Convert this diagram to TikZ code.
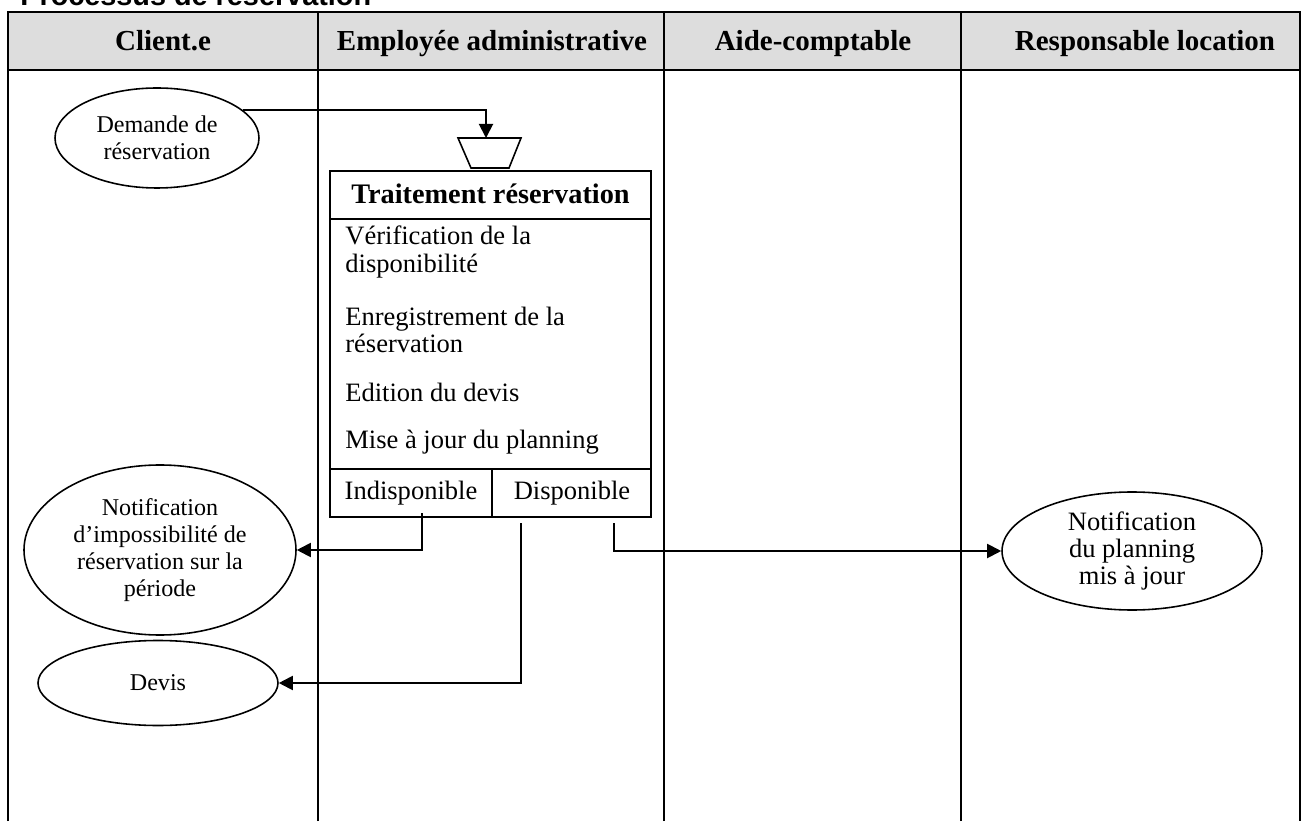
\documentclass[tikz,border=0pt]{standalone}
\usepackage{fontspec}
\setmainfont{Liberation Serif}
\newfontfamily\titlefont{Liberation Sans}
\usepackage{tikz}
\usetikzlibrary{shapes,arrows}
\usetikzlibrary{arrows.meta}
\definecolor{headgray}{RGB}{221,221,221}

\begin{document}
\begin{tikzpicture}

\tikzstyle{lane_line} = [line width=1.5pt, draw=black]
\tikzstyle{head_text} = [anchor=base, inner sep=0, font=\fontsize{16.5}{18}\selectfont\bfseries]
\tikzstyle{task_box} = [draw, line width=1.2pt, inner sep=0]
\tikzstyle{task_item} = [anchor=west, align=left, inner sep=0, font=\fontsize{15.1}{15.7}\selectfont]
\tikzstyle{flow-e} = [draw, ellipse, line width=0.9pt, inner sep=0, align=center, font=\fontsize{13.7}{15.4}\selectfont]
\tikzstyle{flow-big} = [flow-e, font=\fontsize{15.1}{15.4}\selectfont]
\tikzstyle{link} = [line width=1.1pt, -{Triangle[length=8pt,width=8pt]}]

\useasboundingbox (0,0) rectangle (26.16,16.42);

\node[anchor=base west, inner sep=0, font=\titlefont\fontsize{16.4}{18}\selectfont\bfseries] (title) at (0.40,16.30) {Processus de réservation};

\fill[headgray] (0.16,15.02) rectangle (26.00,16.18);
\draw[lane_line] (0.16,0) -- (0.16,16.18) -- (26.00,16.18) -- (26.00,0);
\draw[lane_line] (0.16,15.02) -- (26.00,15.02);
\foreach \x in {6.36,13.28,19.22}
  \draw[lane_line] (\x,0) -- (\x,16.18);

\node[head_text] (client) at (3.26,15.40) {Client.e};
\node[head_text] (employee) at (9.84,15.40) {Employée administrative};
\node[head_text] (aide) at (16.26,15.40) {Aide-comptable};
\node[head_text] (responsable) at (22.90,15.40) {Responsable location};

\node[flow-e, minimum width=4.08cm, minimum height=2.0cm] (demande) at (3.14,13.66) {Demande de\\réservation};
\node[flow-e, minimum width=5.44cm, minimum height=3.40cm] (impossible) at (3.20,5.42) {Notification\\d’impossibilité de\\réservation sur la\\période};
\node[flow-e, minimum width=4.80cm, minimum height=1.70cm] (devis) at (3.16,2.76) {Devis};
\node[flow-big, minimum width=5.20cm, minimum height=2.36cm] (planning) at (22.64,5.40) {Notification\\du planning\\mis à jour};

\draw[line width=0.9pt] (9.16,13.66) -- (10.42,13.66) -- (10.18,13.06) -- (9.42,13.06) -- cycle;
\coordinate (merge) at (9.72,13.66);

\node[task_box, minimum width=6.42cm, minimum height=6.92cm] (traitement) at (9.81,9.54) {};
\draw[line width=1.2pt] (6.60,12.04) -- (13.02,12.04);
\draw[line width=1.2pt] (6.60,7.04) -- (13.02,7.04);
\draw[line width=1.2pt] (9.84,7.04) -- (9.84,6.08);

\node[head_text, font=\fontsize{16.1}{18}\selectfont\bfseries] (titre) at (9.81,12.34) {Traitement réservation};
\node[task_item] (verif) at (6.90,11.38) {Vérification de la\\disponibilité};
\node[task_item] (enreg) at (6.90,9.82) {Enregistrement de la\\réservation};
\node[task_item] (edition) at (6.90,8.57) {Edition du devis};
\node[task_item] (maj) at (6.90,7.58) {Mise à jour du planning};
\node[task_item, anchor=center] (indispo) at (8.22,6.56) {Indisponible};
\node[task_item, anchor=center] (dispo) at (11.44,6.56) {Disponible};

\coordinate (c_indispo) at (8.44,6.16);
\coordinate (c_devis) at (10.42,5.96);
\coordinate (c_planning) at (12.28,5.96);

\draw[link] (demande.18) -| (merge);
\draw[link] (c_indispo) |- (impossible);
\draw[link] (c_devis) |- (devis);
\draw[link] (c_planning) |- (planning);

\end{tikzpicture}
\end{document}
